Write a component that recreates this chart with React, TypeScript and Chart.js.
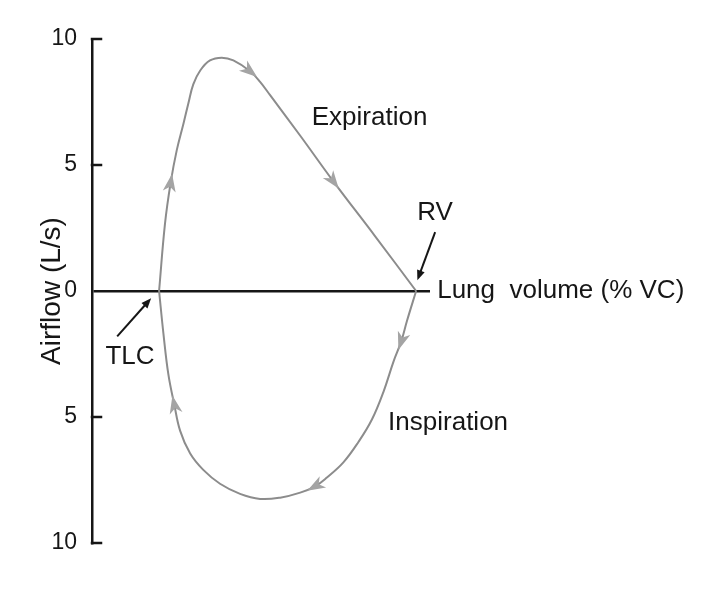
import { useEffect, useRef } from "react";
import { Chart, registerables } from "chart.js";

Chart.register(...registerables);

// Lung volume (% of vital capacity exhaled, TLC = 0, RV = 100) and airflow (L/s)
const expirationVolume = [0, 2.3, 4.5, 6.9, 9.5, 11.4, 13.3, 16.0, 19.8, 24.4, 28.9, 35.4, 39.3, 43.2, 55.0, 67.8, 84.0, 100];
const expirationFlow = [0, 2.67, 4.3, 5.6, 6.65, 7.45, 8.2, 8.75, 9.15, 9.26, 9.15, 8.72, 8.3, 7.77, 6.15, 4.35, 2.18, 0];
const expirationArrowAt = [2, 11, 15];

const inspirationVolume = [100, 96.4, 94.2, 91.2, 87.3, 82.8, 77.5, 71.7, 65.3, 60.7, 54.9, 47.1, 39.3, 31.5, 23.7, 17.2, 12.1, 8.2, 5.9, 3.6, 1.7, 0];
const inspirationFlow = [0, -1.2, -2.0, -2.8, -4.0, -5.1, -6.0, -6.8, -7.4, -7.75, -8.0, -8.2, -8.25, -8.05, -7.65, -7.1, -6.45, -5.55, -4.5, -3.3, -1.7, 0];
const inspirationArrowAt = [2, 9, 18];

const yTicks = [-10, -5, 0, 5, 10];
const yTitle = "Airflow (L/s)";

const labelTexts = ["Expiration", "Inspiration", "RV", "TLC", "Lung  volume (% VC)"];
const labelX = [59.4, 89.1, 107.4, -11.3, 108.2];
const labelY = [6.87, -5.25, 3.12, -2.63, 0];
const labelAlign = ["left", "left", "center", "center", "left"];

const pointerFromX = [107.4, -16.3];
const pointerFromY = [2.34, -1.8];
const pointerToX = [100.5, -3.1];
const pointerToY = [0.43, -0.29];

const FONT = "'Liberation Sans', Arial, Helvetica, sans-serif";
const CURVE = "#8c8c8c";
const ARROW = "#a4a4a4";
const INK = "#161616";

const decorPlugin = {
  id: "loopDecor",
  afterDatasetsDraw(chart: any) {
    const ctx = chart.ctx;
    const xs = chart.scales.x;
    const ys = chart.scales.y;
    const area = chart.chartArea;
    ctx.save();

    // inward tick stubs on the airflow axis
    ctx.strokeStyle = INK;
    ctx.lineWidth = 2.5;
    ctx.lineCap = "square";
    yTicks.forEach((v) => {
      if (v === 0) return;
      const py = ys.getPixelForValue(v);
      ctx.beginPath();
      ctx.moveTo(area.left, py);
      ctx.lineTo(area.left + 9, py);
      ctx.stroke();
    });
    ctx.lineCap = "butt";

    // direction arrowheads on the loop
    chart.data.datasets.forEach((ds: any, di: number) => {
      const meta = chart.getDatasetMeta(di);
      (ds.arrowAt || []).forEach((i: number) => {
        const p: any = meta.data[i];
        if (!p) return;
        let dx = p.cp2x - p.cp1x;
        let dy = p.cp2y - p.cp1y;
        const len = Math.hypot(dx, dy) || 1;
        dx /= len;
        dy /= len;
        const nx = -dy;
        const ny = dx;
        const L = 9;
        const W = 6.5;
        ctx.fillStyle = ARROW;
        ctx.beginPath();
        ctx.moveTo(p.x + dx * L, p.y + dy * L);
        ctx.lineTo(p.x - dx * L + nx * W, p.y - dy * L + ny * W);
        ctx.lineTo(p.x - dx * (L * 0.45), p.y - dy * (L * 0.45));
        ctx.lineTo(p.x - dx * L - nx * W, p.y - dy * L - ny * W);
        ctx.closePath();
        ctx.fill();
      });
    });

    // text annotations
    ctx.fillStyle = INK;
    ctx.font = `26px ${FONT}`;
    ctx.textBaseline = "middle";
    labelTexts.forEach((t, i) => {
      ctx.textAlign = labelAlign[i];
      ctx.fillText(t, xs.getPixelForValue(labelX[i]), ys.getPixelForValue(labelY[i]));
    });

    // pointer arrows (RV, TLC)
    ctx.strokeStyle = INK;
    ctx.fillStyle = INK;
    ctx.lineWidth = 2;
    pointerFromX.forEach((_, i) => {
      const x0 = xs.getPixelForValue(pointerFromX[i]);
      const y0 = ys.getPixelForValue(pointerFromY[i]);
      const x1 = xs.getPixelForValue(pointerToX[i]);
      const y1 = ys.getPixelForValue(pointerToY[i]);
      let dx = x1 - x0;
      let dy = y1 - y0;
      const len = Math.hypot(dx, dy) || 1;
      dx /= len;
      dy /= len;
      const nx = -dy;
      const ny = dx;
      const H = 10;
      const W = 4;
      ctx.beginPath();
      ctx.moveTo(x0, y0);
      ctx.lineTo(x1 - dx * H * 0.8, y1 - dy * H * 0.8);
      ctx.stroke();
      ctx.beginPath();
      ctx.moveTo(x1, y1);
      ctx.lineTo(x1 - dx * H + nx * W, y1 - dy * H + ny * W);
      ctx.lineTo(x1 - dx * H - nx * W, y1 - dy * H - ny * W);
      ctx.closePath();
      ctx.fill();
    });

    ctx.restore();
  },
};

export default function App() {
  const canvasRef = useRef<HTMLCanvasElement | null>(null);

  useEffect(() => {
    document.body.style.margin = "0";
    const canvas = canvasRef.current;
    if (!canvas) return;

    const chart = new Chart(canvas, {
      type: "scatter",
      data: {
        datasets: [
          {
            label: "Expiration",
            data: expirationVolume.map((v, i) => ({ x: v, y: expirationFlow[i] })),
            showLine: true,
            borderColor: CURVE,
            borderWidth: 2,
            pointRadius: 0,
            tension: 0.4,
            arrowAt: expirationArrowAt,
          } as any,
          {
            label: "Inspiration",
            data: inspirationVolume.map((v, i) => ({ x: v, y: inspirationFlow[i] })),
            showLine: true,
            borderColor: CURVE,
            borderWidth: 2,
            pointRadius: 0,
            tension: 0.4,
            arrowAt: inspirationArrowAt,
          } as any,
        ],
      },
      options: {
        responsive: false,
        animation: false,
        layout: { padding: { top: 39, bottom: 55, left: 0, right: 292 } },
        plugins: {
          legend: { display: false },
          tooltip: { enabled: false },
        },
        scales: {
          x: {
            type: "linear",
            min: -26.1,
            max: 105.4,
            display: false,
          },
          y: {
            type: "linear",
            min: -10,
            max: 10,
            afterBuildTicks: (scale: any) => {
              scale.ticks = yTicks.map((v) => ({ value: v }));
            },
            afterFit: (scale: any) => {
              scale.width = 92;
            },
            border: { display: true, color: INK, width: 2.5 },
            grid: {
              drawTicks: false,
              lineWidth: 2.5,
              color: (c: any) => (c.tick && c.tick.value === 0 ? INK : "rgba(0,0,0,0)"),
            },
            ticks: {
              padding: 15,
              color: INK,
              font: { family: FONT, size: 23 },
              callback: (v: any) => String(Math.abs(Number(v))),
            },
            title: {
              display: true,
              text: yTitle,
              color: INK,
              font: { family: FONT, size: 28 },
              padding: { top: 35, bottom: 0 },
            },
          },
        },
      },
      plugins: [decorPlugin],
    });

    return () => chart.destroy();
  }, []);

  return (
    <div style={{ width: 722, height: 598, background: "#fff" }}>
      <canvas ref={canvasRef} width={722} height={598} />
    </div>
  );
}
